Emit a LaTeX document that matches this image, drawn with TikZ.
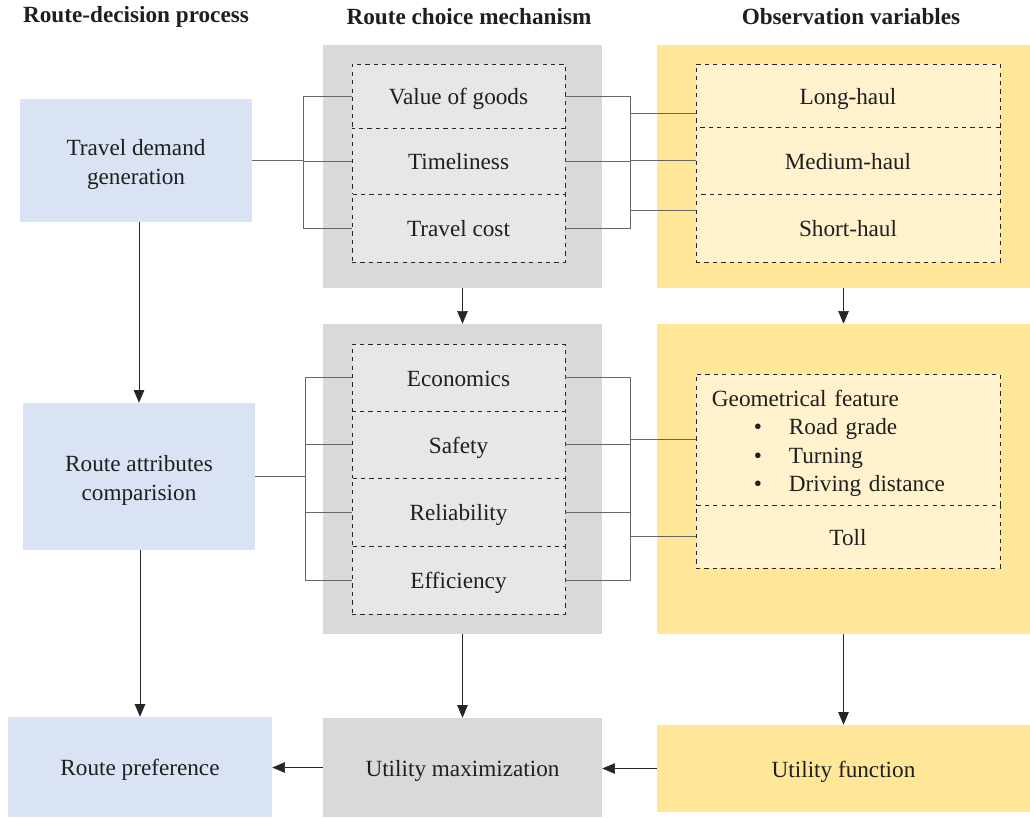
\documentclass[tikz,border=0pt]{standalone}
\usepackage{fontspec}
\setmainfont{Liberation Serif}
\usetikzlibrary{arrows.meta,calc}

\definecolor{procblue}{HTML}{DAE3F3}
\definecolor{mechgray}{HTML}{D9D9D9}
\definecolor{mechlight}{HTML}{E7E7E7}
\definecolor{obsyellow}{HTML}{FFE699}
\definecolor{obslight}{HTML}{FFF2CC}
\newcommand{\firstline}{\rule{0pt}{17pt}}

\begin{document}
\begin{tikzpicture}[x=0.025cm, y=-0.025cm,
	every node/.style={font=\fontsize{16.5}{20}\selectfont, text=black!88, inner sep=0pt},
	oneline/.style={text height=15.6pt, text depth=3pt},
	head/.style={font=\fontsize{16.5}{20}\selectfont\bfseries},
	proc/.style={fill=procblue, align=center, minimum width=5.8cm},
	mech/.style={fill=mechgray, align=center, minimum width=6.975cm},
	obs/.style={fill=obsyellow, align=center, minimum width=9.325cm},
	mechitem/.style={oneline, fill=mechlight, draw=black!85, dashed, line width=0.6pt, minimum width=5.325cm},
	obsitem/.style={oneline, fill=obslight, draw=black!85, dashed, line width=0.6pt, minimum width=7.6cm},
	link/.style={draw=black!60, line width=0.6pt},
	flow/.style={draw=black!85, line width=0.5pt, -{Triangle[length=9pt,width=7.5pt]}}
]
	\useasboundingbox (0,0) rectangle (1030,817);

	% column headings
	\node (h1)[head] at (136,17) {Route-decision process};
	\node (h2)[head] at (469,17) {Route choice mechanism};
	\node (h3)[head] at (851,17) {Observation variables};

	% route-decision process
	\node (td)[proc, minimum height=3.075cm] at (136,160.5) {\firstline Travel demand\\generation};
	\node (ra)[proc, minimum height=3.675cm] at (139,476.5) {\firstline Route attributes\\comparision};
	\node (rp)[proc, oneline, minimum width=6.6cm, minimum height=2.5cm] at (140,767) {Route preference};

	% route choice mechanism
	\node (m1)[mech, minimum height=6.075cm] at (462.5,166.5) {};
	\node (m2)[mech, minimum height=7.75cm] at (462.5,479) {};
	\node (um)[mech, oneline, minimum height=2.475cm] at (462.5,767.5) {Utility maximization};
	\node (vg)[mechitem, minimum height=1.6cm] at (458.5,96) {Value of goods};
	\node (tl)[mechitem, minimum height=1.65cm] at (458.5,161) {Timeliness};
	\node (tc)[mechitem, minimum height=1.7cm] at (458.5,228) {Travel cost};
	\node (ec)[mechitem, minimum height=1.675cm] at (458.5,377.5) {Economics};
	\node (sf)[mechitem, minimum height=1.675cm] at (458.5,444.5) {Safety};
	\node (rl)[mechitem, minimum height=1.7cm] at (458.5,512) {Reliability};
	\node (ef)[mechitem, minimum height=1.7cm] at (458.5,580) {Efficiency};

	% observation variables
	\node (o1)[obs, minimum height=6.075cm] at (843.5,166.5) {};
	\node (o2)[obs, minimum height=7.75cm] at (843.5,479) {};
	\node (uf)[obs, oneline, minimum height=2.175cm] at (843.5,768.5) {Utility function};
	\node (lh)[obsitem, minimum height=1.575cm] at (848,95.5) {Long-haul};
	\node (mh)[obsitem, minimum height=1.675cm] at (848,160.5) {Medium-haul};
	\node (sh)[obsitem, minimum height=1.7cm] at (848,228) {Short-haul};
	\node (gf)[obsitem, text height=, text depth=, minimum height=3.275cm, align=left, text width=6.8cm] at (848,439.5)
		{\firstline Geometrical feature\\
		\makebox[1.925cm][l]{\hspace*{1.05cm}\textbullet}Road grade\\
		\makebox[1.925cm][l]{\hspace*{1.05cm}\textbullet}Turning\\
		\makebox[1.925cm][l]{\hspace*{1.05cm}\textbullet}Driving distance};
	\node (tt)[obsitem, minimum height=1.575cm] at (848,536.5) {Toll};

	% brackets
	\coordinate (bl1) at (303,0);
	\coordinate (br1) at (630,0);
	\coordinate (bl2) at (305,0);
	\coordinate (br2) at (630,0);
	\coordinate (lhb) at ($(lh.west)!0.55!(lh.south west)$);
	\coordinate (shb) at ($(sh.west)!0.5!(sh.north west)$);
	\draw[link] (td.east) -- (td.east -| bl1);
	\draw[link] (vg.west) -- (vg.west -| bl1) -- (tc.west -| bl1) -- (tc.west);
	\draw[link] (tl.west) -- (tl.west -| bl1);
	\draw[link] (vg.east) -- (vg.east -| br1) -- (tc.east -| br1) -- (tc.east);
	\draw[link] (tl.east) -- (tl.east -| br1);
	\draw[link] (lhb -| br1) -- (lhb);
	\draw[link] (mh.west -| br1) -- (mh.west);
	\draw[link] (shb -| br1) -- (shb);

	\draw[link] (ra.east) -- (ra.east -| bl2);
	\draw[link] (ec.west) -- (ec.west -| bl2) -- (ef.west -| bl2) -- (ef.west);
	\draw[link] (sf.west) -- (sf.west -| bl2);
	\draw[link] (rl.west) -- (rl.west -| bl2);
	\draw[link] (ec.east) -- (ec.east -| br2) -- (ef.east -| br2) -- (ef.east);
	\draw[link] (sf.east) -- (sf.east -| br2);
	\draw[link] (rl.east) -- (rl.east -| br2);
	\draw[link] (gf.west -| br2) -- (gf.west);
	\draw[link] (tt.west -| br2) -- (tt.west);

	% flow arrows
	\draw[flow] (td.south -| ra.north) -- (ra.north);
	\draw[flow] (ra.south -| rp.north) -- (rp.north);
	\draw[flow] (m1.south) -- (m2.north);
	\draw[flow] (m2.south) -- (um.north);
	\draw[flow] (o1.south) -- (o2.north);
	\draw[flow] (o2.south) -- (uf.north);
	\draw[flow] (uf.west) -- (uf.west -| um.east);
	\draw[flow] (um.west) -- (um.west -| rp.east);
\end{tikzpicture}
\end{document}
